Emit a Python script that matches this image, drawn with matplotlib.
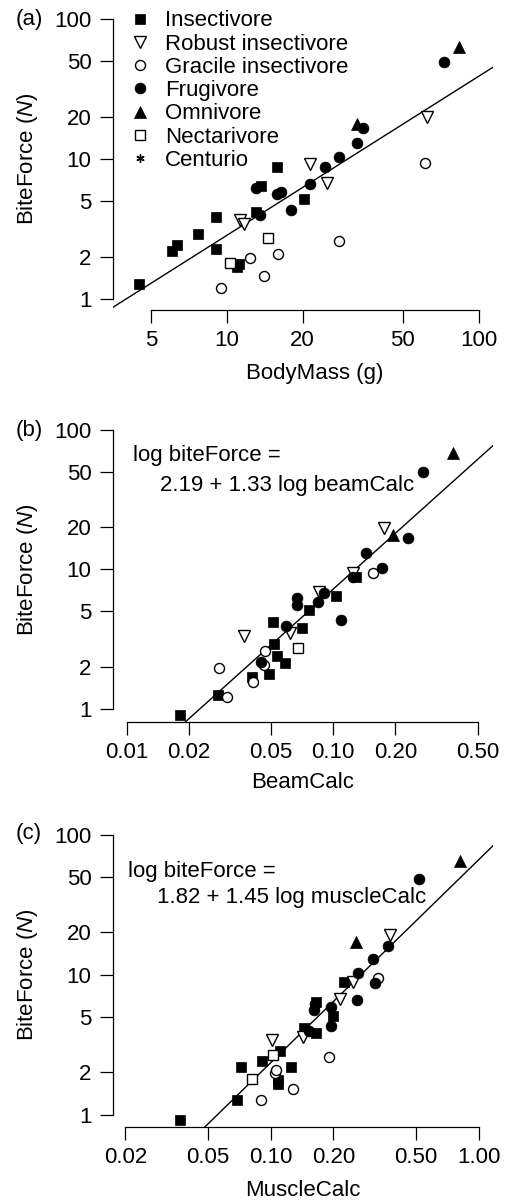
import matplotlib as mpl
mpl.use('Agg')
import matplotlib.pyplot as plt
from matplotlib.lines import Line2D
import numpy as np

FS = 16
plt.rcParams['font.family'] = ['Liberation Sans', 'DejaVu Sans']
plt.rcParams['font.size'] = FS
plt.rcParams['mathtext.fontset'] = 'custom'
plt.rcParams['mathtext.rm'] = 'Liberation Sans'
plt.rcParams['mathtext.it'] = 'Liberation Sans:italic'

# groups: I insectivore, R robust insectivore, G gracile insectivore,
# F frugivore, O omnivore, N nectarivore, C centurio
group_codes = ['I', 'R', 'G', 'F', 'O', 'N', 'C']
group_names = ['Insectivore', 'Robust insectivore', 'Gracile insectivore',
               'Frugivore', 'Omnivore', 'Nectarivore', 'Centurio']

# (a) body mass vs bite force
a_x = [4.5, 6.05, 6.37, 7.71, 9.04, 9.04, 10.96, 11.2, 13.07, 13.7, 15.9, 20.3,
       11.3, 11.75, 21.4, 24.9, 62.2,
       9.49, 12.4, 14.1, 16.0, 28.0, 61.2,
       13.1, 13.55, 15.9, 16.4, 18.0, 21.4, 24.6, 28.0, 33.0, 34.7, 73.0,
       32.8, 83.3,
       10.3, 14.6]
a_y = [1.27, 2.2, 2.43, 2.9, 3.83, 2.28, 1.70, 1.78, 4.18, 6.41, 8.81, 5.15,
       3.67, 3.43, 9.21, 6.7, 19.9,
       1.20, 1.97, 1.47, 2.10, 2.61, 9.41,
       6.17, 3.98, 5.62, 5.84, 4.32, 6.63, 8.72, 10.3, 13.1, 16.6, 49.3,
       17.7, 63.4,
       1.82, 2.74]
a_g = ['I'] * 12 + ['R'] * 5 + ['G'] * 6 + ['F'] * 11 + ['O'] * 2 + ['N'] * 2

# (b) beamCalc vs bite force
b_x = [0.0181, 0.0278, 0.0403, 0.049, 0.0532, 0.0584, 0.0518, 0.0512, 0.0705, 0.0766, 0.103, 0.129,
       0.037, 0.0617, 0.0856, 0.125, 0.175,
       0.0279, 0.0305, 0.0407, 0.0463, 0.0467, 0.155,
       0.0446, 0.059, 0.0665, 0.0665, 0.0846, 0.090, 0.1086, 0.125, 0.144, 0.173, 0.2305, 0.2727,
       0.195, 0.381,
       0.0678]
b_y = [0.906, 1.26, 1.69, 1.78, 2.41, 2.13, 2.91, 4.18, 3.83, 5.12, 6.46, 8.79,
       3.34, 3.49, 6.93, 9.39, 19.7,
       1.96, 1.22, 1.55, 2.07, 2.61, 9.39,
       2.18, 3.94, 6.22, 5.57, 5.88, 6.75, 4.35, 8.9, 13.1, 10.2, 16.7, 50.3,
       17.7, 68.1,
       2.72]
b_g = ['I'] * 12 + ['R'] * 5 + ['G'] * 6 + ['F'] * 12 + ['O'] * 2 + ['N'] * 1

# (c) muscleCalc vs bite force
c_x = [0.0366, 0.0687, 0.0717, 0.0905, 0.108, 0.108, 0.111, 0.125, 0.1445, 0.165, 0.165, 0.2, 0.226,
       0.102, 0.1425, 0.2156, 0.248, 0.375,
       0.0898, 0.105, 0.106, 0.1276, 0.191, 0.329,
       0.152, 0.162, 0.163, 0.194, 0.194, 0.259, 0.264, 0.309, 0.317, 0.367, 0.518,
       0.256, 0.813,
       0.081, 0.103]
c_y = [0.913, 1.27, 2.17, 2.41, 1.76, 1.65, 2.86, 2.17, 4.13, 3.8, 6.4, 5.05, 8.8,
       3.41, 3.56, 6.65, 8.89, 19.1,
       1.27, 1.97, 2.08, 1.51, 2.56, 9.4,
       3.97, 5.58, 6.2, 4.29, 5.83, 6.58, 10.2, 12.8, 8.74, 16.1, 47.9,
       17.2, 64.7,
       1.78, 2.66]
c_g = ['I'] * 13 + ['R'] * 5 + ['G'] * 6 + ['F'] * 11 + ['O'] * 2 + ['N'] * 2

# log10 fits: intercept, slope
fit_a = (-0.683, 1.137)
fit_b = (2.19, 1.33)
fit_c = (1.82, 1.45)

y_ticks = [1, 2, 5, 10, 20, 50, 100]
a_xticks = [5, 10, 20, 50, 100]
a_xlabels = ['5', '10', '20', '50', '100']
b_xticks = [0.01, 0.02, 0.05, 0.1, 0.2, 0.5]
b_xlabels = ['0.01', '0.02', '0.05', '0.10', '0.20', '0.50']
c_xticks = [0.02, 0.05, 0.1, 0.2, 0.5, 1.0]
c_xlabels = ['0.02', '0.05', '0.10', '0.20', '0.50', '1.00']

styles = {
    'I': dict(marker='s', ms=7.0, mfc='black', mec='black', mew=0.5),
    'R': dict(marker='v', ms=9.2, mfc='white', mec='black', mew=1.0),
    'G': dict(marker='o', ms=7.2, mfc='white', mec='black', mew=1.0),
    'F': dict(marker='o', ms=7.8, mfc='black', mec='black', mew=0.5),
    'O': dict(marker='^', ms=8.8, mfc='black', mec='black', mew=0.5),
    'N': dict(marker='s', ms=6.6, mfc='white', mec='black', mew=1.0),
    'C': dict(marker=(6, 2, 0), ms=6.0, mfc='black', mec='black', mew=1.0),
}

W, H = 508, 1200
fig = plt.figure(figsize=(W / 100, H / 100), dpi=100)


def px(x, y):
    return x / W, 1 - y / H


def panel(top_px, bot_px, xlim_log, ylim_log, xs, ys, gs, fit, xticks, xlabels):
    ax = fig.add_axes([113 / W, 1 - bot_px / H, 380 / W, (bot_px - top_px) / H])
    ax.set_xscale('log')
    ax.set_yscale('log')
    for code in group_codes:
        px_ = [x for x, g in zip(xs, gs) if g == code]
        py_ = [y for y, g in zip(ys, gs) if g == code]
        if px_:
            ax.plot(px_, py_, ls='none', zorder=3, **styles[code])
    lo, hi = 10 ** xlim_log[0], 10 ** xlim_log[1]
    xx = np.array([lo, hi])
    ax.plot(xx, 10 ** (fit[0] + fit[1] * np.log10(xx)), color='black', lw=1.0, zorder=2)
    ax.set_xlim(lo, hi)
    ax.set_ylim(10 ** ylim_log[0], 10 ** ylim_log[1])
    for s in ['top', 'right']:
        ax.spines[s].set_visible(False)
    ax.spines['left'].set_bounds(1, 100)
    ax.spines['bottom'].set_bounds(xticks[0], xticks[-1])
    for s in ['left', 'bottom']:
        ax.spines[s].set_linewidth(0.9)
    ax.set_yticks(y_ticks)
    ax.set_yticklabels([str(t) for t in y_ticks])
    ax.set_xticks(xticks)
    ax.set_xticklabels(xlabels)
    ax.minorticks_off()
    ax.tick_params(axis='both', direction='out', length=9.5, width=0.9, labelsize=FS)
    ax.tick_params(axis='y', pad=6)
    ax.tick_params(axis='x', pad=5)
    ax.patch.set_visible(False)
    return ax


ax_a = panel(7.8, 310, (0.5488, 2.0567), (-0.0786, 2.08), a_x, a_y, a_g, fit_a, a_xticks, a_xlabels)
ax_b = panel(418.8, 721.7, (-2.0663, -0.2270), (-0.091, 2.08), b_x, b_y, b_g, fit_b, b_xticks, b_xlabels)
ax_c = panel(823.3, 1126.7, (-1.7582, 0.0688), (-0.087, 2.08), c_x, c_y, c_g, fit_c, c_xticks, c_xlabels)

# legend in panel a
handles = [Line2D([], [], ls='none', **styles[c]) for c in group_codes]
leg = ax_a.legend(handles, group_names, loc='upper left', bbox_to_anchor=px(128.9, 10.5),
                  bbox_transform=fig.transFigure, frameon=False, borderpad=0, borderaxespad=0,
                  handlelength=1.0, handletextpad=0.62, labelspacing=0.1, fontsize=FS)

# panel letters
for lab, yy in [('(a)', 19), ('(b)', 430), ('(c)', 834)]:
    fig.text(*px(16, yy), lab, ha='left', va='center', fontsize=FS)

# axis titles
ylab = r'BiteForce ($\mathit{N}$)'
for yy in [159, 570, 975]:
    fig.text(*px(28, yy), ylab, rotation=90, ha='center', va='center', fontsize=FS)
fig.text(*px(315, 373), 'BodyMass (g)', ha='center', va='center', fontsize=FS)
fig.text(*px(302.5, 783), 'BeamCalc', ha='center', va='center', fontsize=FS)
fig.text(*px(303, 1190), 'MuscleCalc', ha='center', va='center', fontsize=FS)

# fitted equations
fig.text(*px(133, 455), 'log biteForce =', ha='left', va='center', fontsize=FS)
fig.text(*px(160, 485), '2.19 + 1.33 log beamCalc', ha='left', va='center', fontsize=FS)
fig.text(*px(128, 872), 'log biteForce =', ha='left', va='center', fontsize=FS)
fig.text(*px(157, 898), '1.82 + 1.45 log muscleCalc', ha='left', va='center', fontsize=FS)

fig.savefig('out.png', dpi=100)
